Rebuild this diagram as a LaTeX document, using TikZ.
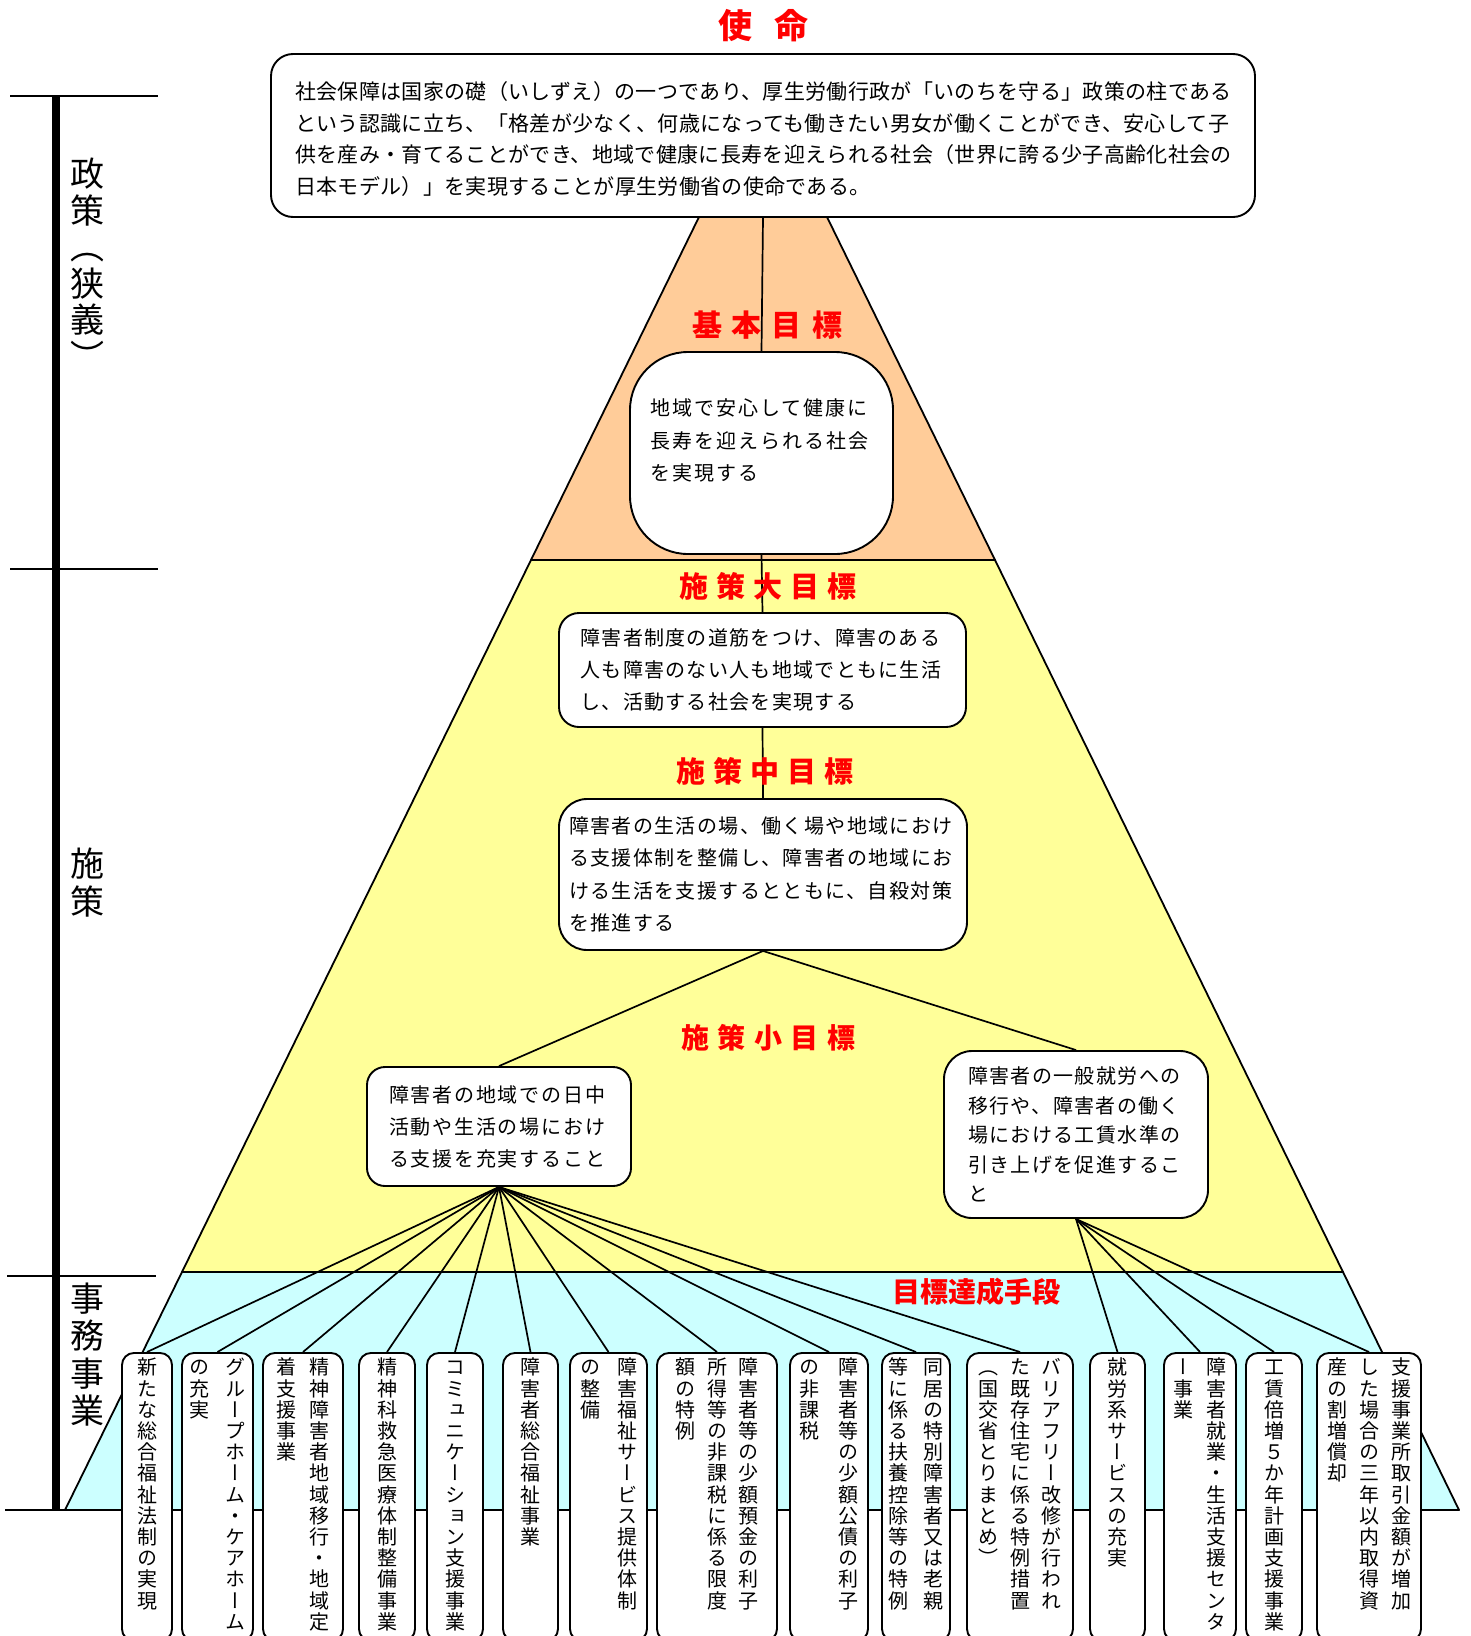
\documentclass[tikz,border=0pt]{standalone}
\usepackage{fontspec}
\newfontfamily\jp{Noto Sans CJK JP}
\newfontfamily\jpv{Noto Sans CJK JP}[RawFeature=+vert]
\definecolor{pyOrange}{RGB}{255,204,153}
\definecolor{pyYellow}{RGB}{255,255,153}
\definecolor{pyCyan}{RGB}{204,255,255}
\newdimen\vcW \newdimen\vcH \newdimen\vcD
\vcW=21pt \vcH=17.8pt \vcD=3.4pt
\def\vcolumn#1{\vtop{\offinterlineskip\vcolloop#1\relax}}
\def\vcolloop#1{\ifx\relax#1\else\hbox to\vcW{\hss\vrule width0pt height\vcH depth\vcD\relax#1\hss}\expandafter\vcolloop\fi}
\newcommand\vpair[3]{\hbox{\vcolumn{#3}\hskip#1\vcolumn{#2}}}
\newcommand\vtriple[4]{\hbox{\vcolumn{#4}\hskip#1\vcolumn{#3}\hskip#1\vcolumn{#2}}}
\pgfdeclarelayer{bg}\pgfdeclarelayer{lines}
\pgfsetlayers{bg,lines,main}
\begin{document}
\begin{tikzpicture}[x=1pt,y=-1pt,
  box/.style={draw=black, line width=1.9pt, fill=white, inner sep=0pt},
  conn/.style={draw=black, line width=1.7pt},
  edge/.style={draw=black, line width=1.8pt, line join=round},
  vtbox/.style={box, rounded corners=12pt, anchor=north, text height=22pt, text depth=266pt, font=\jpv\fontsize{20}{21}\selectfont},
  redlbl/.style={text=red, inner sep=0pt, font=\jp\bfseries\fontsize{#1}{#1}\selectfont},
  sidelbl/.style={inner sep=0pt, anchor=north, font=\jpv\fontsize{34}{34}\selectfont}]
\useasboundingbox (0,0) rectangle (1470,1636);
\begin{pgfonlayer}{bg}
\fill[white] (0,0) rectangle (1470,1636);
\filldraw[edge, fill=pyOrange] (699,217) -- (827,217) -- (995,560) -- (531,560) -- cycle;
\filldraw[edge, fill=pyYellow] (531,560) -- (995,560) -- (1343,1272) -- (182,1272) -- cycle;
\filldraw[edge, fill=pyCyan] (182,1272) -- (1343,1272) -- (1459,1510) -- (65,1510) -- cycle;
\draw[line width=8pt] (56,96) -- (56,1510);
\draw[line width=1.5pt] (10,96) -- (158,96);
\draw[line width=1.5pt] (10,569) -- (158,569);
\draw[line width=1.5pt] (7,1276) -- (156,1276);
\draw[line width=1.8pt] (5,1510) -- (65,1510);
\end{pgfonlayer}

% side labels
\node[sidelbl] (sideA) at (87,155) {\vcW=34pt\vcH=31.5pt\vcD=5pt\vcolumn{政策（狭義）}};
\node[sidelbl] (sideB) at (87,843) {\vcW=34pt\vcH=33pt\vcD=5.5pt\vcolumn{施策}};
\node[sidelbl] (sideC) at (87,1279) {\vcW=34pt\vcH=32pt\vcD=5.5pt\vcolumn{事務事業}};

% main boxes
\node[box, rounded corners=22pt, minimum width=984pt, minimum height=163pt] (mission) at (763,135.5) {\parbox[c][163pt][t]{936pt}{\jp\fontsize{21}{31.7}\selectfont\addfontfeature{LetterSpace=1.6}\vspace*{27.5pt}社会保障は国家の礎（いしずえ）の一つであり、厚生労働行政が「いのちを守る」政策の柱である\\という認識に立ち、「格差が少なく、何歳になっても働きたい男女が働くことができ、安心して子\\供を産み・育てることができ、地域で健康に長寿を迎えられる社会（世界に誇る少子高齢化社会の\\日本モデル）」を実現することが厚生労働省の使命である。}};

\node[box, rounded corners=58pt, minimum width=263pt, minimum height=202pt] (kihon) at (761.5,453) {\parbox[c][202pt][t]{222pt}{\jp\fontsize{20}{32.5}\selectfont\addfontfeature{LetterSpace=10}\vspace*{47pt}地域で安心して健康に\\長寿を迎えられる社会\\を実現する}};

\node[box, rounded corners=20pt, minimum width=407pt, minimum height=114pt, text width=364pt, align=left, font=\jp\fontsize{20}{32}\selectfont\addfontfeature{LetterSpace=6.5}] (dai) at (762.5,670) {障害者制度の道筋をつけ、障害のある\\人も障害のない人も地域でともに生活\\し、活動する社会を実現する};

\node[box, rounded corners=28pt, minimum width=408pt, minimum height=151pt, text width=388pt, align=left, font=\jp\fontsize{20}{32.3}\selectfont\addfontfeature{LetterSpace=7}] (chu) at (763,874.5) {障害者の生活の場、働く場や地域におけ\\る支援体制を整備し、障害者の地域にお\\ける生活を支援するとともに、自殺対策\\を推進する};

\node[box, rounded corners=18pt, minimum width=264pt, minimum height=119pt, text width=220pt, align=left, font=\jp\fontsize{20}{32}\selectfont\addfontfeature{LetterSpace=9}] (sL) at (499,1126.5) {障害者の地域での日中\\活動や生活の場におけ\\る支援を充実すること};

\node[box, rounded corners=28pt, minimum width=264pt, minimum height=167pt, text width=216pt, align=left, font=\jp\fontsize{20}{29.6}\selectfont\addfontfeature{LetterSpace=7}] (sR) at (1076,1134.5) {障害者の一般就労への\\移行や、障害者の働く\\場における工賃水準の\\引き上げを促進するこ\\と};

% bottom boxes
\node[vtbox, minimum width=50pt] (b1) at (147,1352) {\vcolumn{新たな総合福祉法制の実現}};
\node[vtbox, minimum width=71pt] (b2) at (217.5,1352) {\vpair{15.6pt}{グループホーム・ケアホーム}{の充実}};
\node[vtbox, minimum width=80pt] (b3) at (303,1352) {\vpair{12pt}{精神障害者地域移行・地域定}{着支援事業}};
\node[vtbox, minimum width=56pt] (b4) at (387,1352) {\vcolumn{精神科救急医療体制整備事業}};
\node[vtbox, minimum width=56pt] (b5) at (455,1352) {\vcolumn{コミュニケーション支援事業}};
\node[vtbox, minimum width=55pt] (b6) at (530.5,1352) {\vcolumn{障害者総合福祉事業}};
\node[vtbox, minimum width=77pt] (b7) at (608.5,1352) {\vpair{16pt}{障害福祉サービス提供体制}{の整備}};
\node[vtbox, minimum width=120pt] (b8) at (717,1352) {\vtriple{10.5pt}{障害者等の少額預金の利子}{所得等の非課税に係る限度}{額の特例}};
\node[vtbox, minimum width=78pt] (b9) at (829,1352) {\vpair{18pt}{障害者等の少額公債の利子}{の非課税}};
\node[vtbox, minimum width=68pt] (b10) at (916,1352) {\vpair{14pt}{同居の特別障害者又は老親}{等に係る扶養控除等の特例}};
\node[vtbox, minimum width=106pt] (b11) at (1020,1352) {\vtriple{10.5pt}{バリアフリー改修が行われ}{た既存住宅に係る特例措置}{（国交省とりまとめ）}};
\node[vtbox, minimum width=55pt] (b12) at (1117.5,1352) {\vcolumn{就労系サービスの充実}};
\node[vtbox, minimum width=72pt] (b13) at (1200,1352) {\vpair{12pt}{障害者就業・生活支援センタ}{ー事業}};
\node[vtbox, minimum width=56pt] (b14) at (1274,1352) {\vcolumn{工賃倍増５か年計画支援事業}};
\node[vtbox, minimum width=104pt] (b15) at (1369,1352) {\vtriple{11pt}{支援事業所取引金額が増加}{した場合の三年以内取得資}{産の割増償却}};

% red labels
\node[redlbl=34] (tShimei) at (763,26) {使\hspace{22pt}命};
\node[redlbl=30] (tKihon) at (767,325) {基\hspace{10pt}本\hspace{10pt}目\hspace{10pt}標};
\node[redlbl=29] (tDai) at (768,586) {施\hspace{8pt}策\hspace{8pt}大\hspace{8pt}目\hspace{8pt}標};
\node[redlbl=29] (tChu) at (765,771) {施\hspace{8pt}策\hspace{8pt}中\hspace{8pt}目\hspace{8pt}標};
\node[redlbl=28] (tSho) at (768,1038) {施\hspace{8.5pt}策\hspace{8.5pt}小\hspace{8.5pt}目\hspace{8.5pt}標};
\node[redlbl=28] (tShudan) at (976,1292) {目標達成手段};

% connectors
\begin{pgfonlayer}{lines}
\draw[conn] (mission.south) -- (kihon.north);
\draw[conn] (kihon.south) -- (dai.north);
\draw[conn] (dai.south) -- (chu.north);
\draw[conn] (chu.south) -- (sL.north);
\draw[conn] (chu.south) -- (sR.north);
\foreach \b in {b1,b2,b3,b4,b5,b6,b7,b8,b9,b10,b11}
  \draw[conn] (sL.south) -- (\b.north);
\foreach \b in {b12,b13,b14,b15}
  \draw[conn] (sR.south) -- (\b.north);
\end{pgfonlayer}
\end{tikzpicture}
\end{document}
